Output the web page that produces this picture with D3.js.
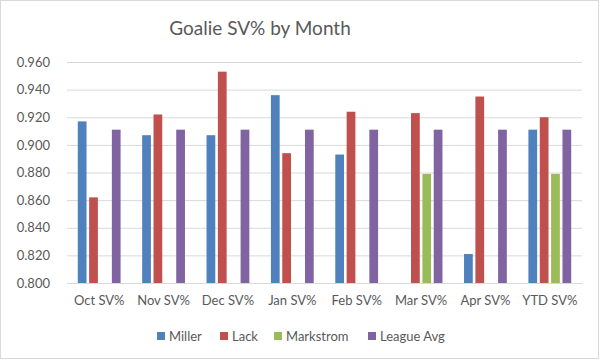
<!DOCTYPE html>
<html>
<head>
<meta charset="utf-8">
<script src="https://cdnjs.cloudflare.com/ajax/libs/d3/7.8.5/d3.min.js"></script>
<style>
	body { margin: 0; background: #fff; }
	text { font-family: Lato, "Open Sans", sans-serif; fill: #595959; }
</style>
</head>
<body>
<div id="chart"></div>
<script>
const categories = ['Oct SV%', 'Nov SV%', 'Dec SV%', 'Jan SV%', 'Feb SV%', 'Mar SV%', 'Apr SV%', 'YTD SV%'];
const seriesNames = ['Miller', 'Lack', 'Markstrom', 'League Avg'];
const miller = [0.917, 0.907, 0.907, 0.936, 0.893, null, 0.821, 0.911];
const lack = [0.862, 0.922, 0.953, 0.894, 0.924, 0.923, 0.935, 0.920];
const markstrom = [null, null, null, null, null, 0.879, null, 0.879];
const leagueAvg = [0.911, 0.911, 0.911, 0.911, 0.911, 0.911, 0.911, 0.911];
const yTicks = [0.80, 0.82, 0.84, 0.86, 0.88, 0.90, 0.92, 0.94, 0.96];
const colors = ['#4f81bd', '#c0504d', '#9bbb59', '#8064a2'];

const WIDTH = 600;
const HEIGHT = 361;
const PLOT = {left: 67, right: 582, top: 62, bottom: 283};

const seriesValues = [miller, lack, markstrom, leagueAvg];

const svg = d3.select('#chart').append('svg')
	.attr('width', WIDTH)
	.attr('height', HEIGHT);

// chart border
svg.append('rect')
	.attr('x', 0.5).attr('y', 0.5)
	.attr('width', WIDTH - 2).attr('height', HEIGHT - 3)
	.attr('fill', '#fff')
	.attr('stroke', '#d9d9d9');

// scales
const x0 = d3.scaleBand()
	.domain(categories)
	.range([PLOT.left, PLOT.right]);

const x1 = d3.scaleBand()
	.domain(seriesNames)
	.range([0, x0.bandwidth()])
	.paddingInner(0.23)
	.paddingOuter(0.95);

const y = d3.scaleLinear()
	.domain([0.8, 0.96])
	.range([PLOT.bottom, PLOT.top]);

// gridlines + y labels
const yAxis = d3.axisLeft(y)
	.tickValues(yTicks)
	.tickFormat(d3.format('.3f'))
	.tickSize(-(PLOT.right - PLOT.left))
	.tickPadding(17);

const yG = svg.append('g')
	.attr('transform', `translate(${PLOT.left}, 0)`)
	.call(yAxis);
yG.select('.domain').remove();
yG.selectAll('.tick line').attr('stroke', '#d9d9d9').attr('stroke-width', 1);
yG.selectAll('.tick text')
	.attr('font-size', 13)
	.attr('font-family', 'Lato, sans-serif')
	.attr('fill', '#595959');

// bars
const groups = svg.append('g').selectAll('g')
	.data(categories)
	.join('g')
	.attr('transform', d => `translate(${x0(d)}, 0)`);

groups.selectAll('rect')
	.data((d, i) => seriesNames.map((s, j) => ({series: s, value: seriesValues[j][i], color: colors[j]})))
	.join('rect')
	.filter(d => d.value !== null)
	.attr('x', d => x1(d.series))
	.attr('width', x1.bandwidth())
	.attr('y', d => y(d.value))
	.attr('height', d => y(0.8) - y(d.value))
	.attr('fill', d => d.color);

// x labels
const xAxis = d3.axisBottom(x0).tickSize(0).tickPadding(13);
const xG = svg.append('g')
	.attr('transform', `translate(0, ${PLOT.bottom})`)
	.call(xAxis);
xG.select('.domain').attr('stroke', '#d9d9d9');
xG.selectAll('.tick text')
	.attr('font-size', 13)
	.attr('font-family', 'Lato, sans-serif')
	.attr('fill', '#595959');

// title
svg.append('text')
	.attr('x', 260)
	.attr('y', 35)
	.attr('text-anchor', 'middle')
	.attr('font-size', 19)
	.text('Goalie SV% by Month');

// legend
const legendX = [157, 220, 274, 368];
const legend = svg.append('g').selectAll('g')
	.data(seriesNames)
	.join('g')
	.attr('transform', (d, i) => `translate(${legendX[i]}, 336)`);

legend.append('rect')
	.attr('x', 0).attr('y', -4)
	.attr('width', 8).attr('height', 8)
	.attr('fill', (d, i) => colors[i]);

legend.append('text')
	.attr('x', 12)
	.attr('y', 5)
	.attr('font-size', 13)
	.text(d => d);
</script>
</body>
</html>
